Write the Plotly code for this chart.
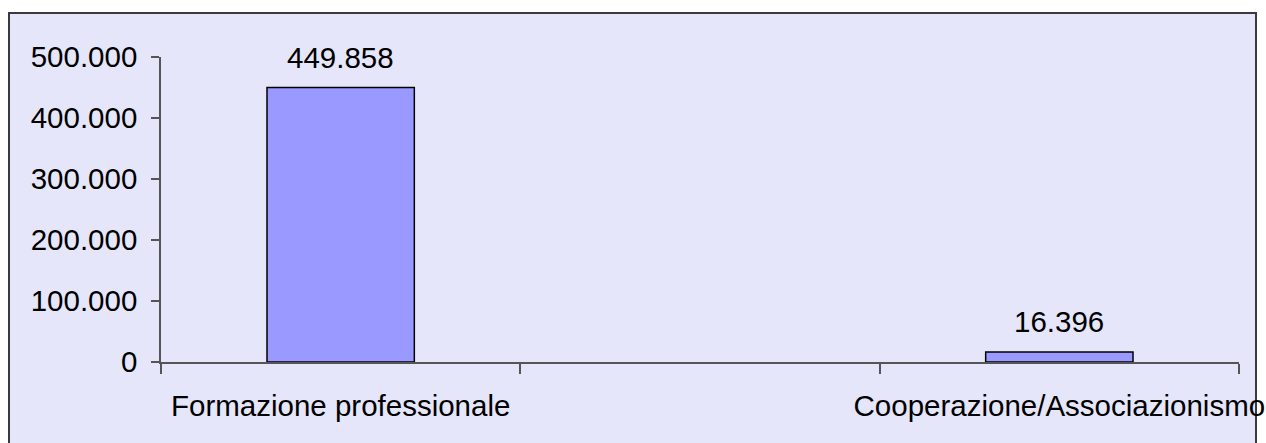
import plotly.graph_objects as go

categories = ["Formazione professionale", " ", "Cooperazione/Associazionismo"]
values = [449858, None, 16396]
y_ticks = [0, 100000, 200000, 300000, 400000, 500000]

FONT = "Liberation Sans, Arial, sans-serif"
FS = 29.5
BG = "#E6E6FA"
BAR = "#9999FF"


def it_fmt(v):
    return f"{v:,}".replace(",", ".")


fig = go.Figure()
fig.add_trace(go.Bar(
    x=categories,
    y=values,
    width=0.41,
    marker=dict(color=BAR, line=dict(color="#000000", width=1.5)),
    hoverinfo="skip",
))

for c, v in zip(categories, values):
    if v is None:
        continue
    fig.add_annotation(
        x=c, y=v, text=it_fmt(v), showarrow=False,
        yanchor="bottom", yshift=12,
        font=dict(family=FONT, size=FS, color="#000000"),
    )

fig.add_shape(
    type="rect", xref="paper", yref="paper",
    x0=(9 - 161) / 1078, x1=(1256 - 161) / 1078,
    y0=(362 - 460) / 305, y1=(362 - 13) / 305,
    fillcolor=BG, line=dict(color="#3a3a3a", width=2), layer="below",
)

fig.update_layout(
    width=1266, height=443,
    autosize=False,
    margin=dict(l=161, r=27, t=57, b=81, autoexpand=False),
    paper_bgcolor="#FFFFFF",
    plot_bgcolor="rgba(0,0,0,0)",
    separators=",.",
    showlegend=False,
    font=dict(family=FONT, size=FS, color="#000000"),
    xaxis=dict(
        type="category",
        categoryorder="array", categoryarray=categories,
        range=[-0.5, 2.5],
        tickson="boundaries",
        tickangle=0,
        automargin=False,
        ticks="outside", ticklen=10, tickwidth=1.5, tickcolor="#555555",
        showline=True, linecolor="#555555", linewidth=1.5,
        showgrid=False, zeroline=False,
        tickfont=dict(family=FONT, size=FS, color="#000000"),
        ticklabelstandoff=17,
    ),
    yaxis=dict(
        range=[0, 500000],
        tickvals=y_ticks,
        ticktext=[it_fmt(v) for v in y_ticks],
        automargin=False,
        ticks="outside", ticklen=8, tickwidth=1.5, tickcolor="#555555",
        showline=True, linecolor="#555555", linewidth=1.5,
        showgrid=False, zeroline=False,
        tickfont=dict(family=FONT, size=FS, color="#000000"),
        ticklabelstandoff=8,
    ),
)

fig.write_html("out.html")
